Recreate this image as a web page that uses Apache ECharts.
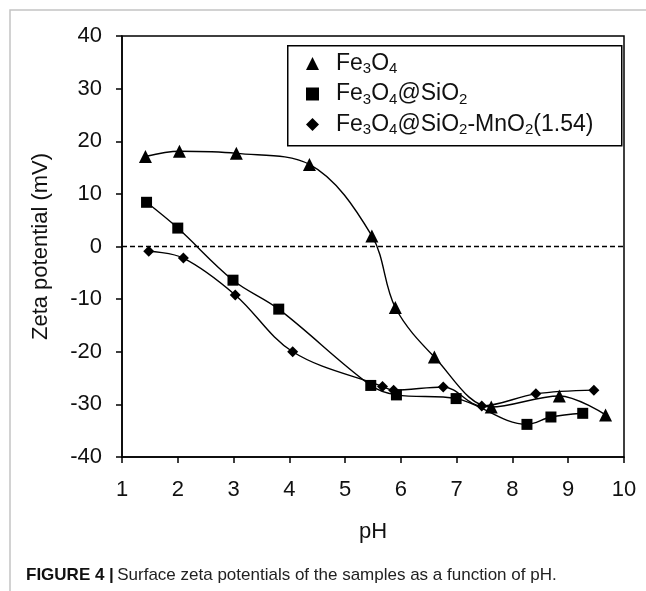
<!DOCTYPE html>
<html>

<head>
    <meta charset="utf-8">
    <title>Zeta potential vs pH (ECharts)</title>
    <script src="https://cdn.jsdelivr.net/npm/echarts@6/dist/echarts.min.js"></script>
    <style>
        html,
        body {
            margin: 0;
            padding: 0;
            height: 100%;
            overflow: hidden;
            background: #fff;
        }

        #main {
            width: 646px;
            height: 591px;
        }
    </style>
</head>

<body>
    <div id="main"></div>

    <script>
        // values: [pH, zeta potential in mV]
        const fe3o4 = [
            [1.42, 17.1], [2.03, 18.1], [3.05, 17.7], [4.36, 15.6], [5.48, 2.0],
            [5.90, -11.6], [6.60, -21.0], [7.62, -30.5], [8.84, -28.4], [9.67, -32.0]
        ];
        const fe3o4Si = [
            [1.44, 8.4], [2.00, 3.5], [2.99, -6.4], [3.81, -11.9], [5.46, -26.4],
            [5.92, -28.2], [6.99, -28.9], [8.26, -33.8], [8.69, -32.4], [9.26, -31.7]
        ];
        const fe3o4SiMn = [
            [1.48, -0.9], [2.10, -2.2], [3.03, -9.2], [4.06, -20.0], [5.67, -26.6],
            [5.87, -27.3], [6.76, -26.7], [7.45, -30.3], [8.42, -28.0], [9.46, -27.3]
        ];
        const seriesNames = ['Fe3O4', 'Fe3O4@SiO2', 'Fe3O4@SiO2-MnO2(1.54)'];
        const legendRich = {
            'Fe3O4': '{n|Fe}{s|3}{n|O}{s|4}',
            'Fe3O4@SiO2': '{n|Fe}{s|3}{n|O}{s|4}{n|@SiO}{s|2}',
            'Fe3O4@SiO2-MnO2(1.54)': '{n|Fe}{s|3}{n|O}{s|4}{n|@SiO}{s|2}{n|-MnO}{s|2}{n|(1.54)}'
        };

        const font = 'Liberation Sans, Arial, sans-serif';
        const chart = echarts.init(document.getElementById('main'));

        const lineSeries = (name, data, symbol, size) => ({
            name: name,
            type: 'line',
            data: data,
            smooth: 0.35,
            symbol: symbol,
            symbolSize: size,
            itemStyle: { color: '#000' },
            lineStyle: { color: '#000', width: 1.4 },
            z: 3
        });

        chart.setOption({
            animation: false,
            textStyle: { fontFamily: font, color: '#111' },

            grid: { left: 122, right: 22, top: 36, bottom: 134, show: true, borderColor: '#000', borderWidth: 1.5 },

            xAxis: {
                type: 'value',
                min: 1,
                max: 10,
                interval: 1,
                name: 'pH',
                nameLocation: 'middle',
                nameGap: 64,
                nameTextStyle: { fontSize: 22, color: '#111' },
                axisLine: { onZero: false, lineStyle: { color: '#000', width: 1.5 } },
                axisTick: { inside: false, length: 6, lineStyle: { color: '#000', width: 1.5 } },
                axisLabel: { fontSize: 22, color: '#111', margin: 22 },
                splitLine: { show: false }
            },

            yAxis: {
                type: 'value',
                min: -40,
                max: 40,
                interval: 10,
                name: 'Zeta potential (mV)',
                nameLocation: 'middle',
                nameGap: 70,
                nameTextStyle: { fontSize: 22, color: '#111' },
                axisLine: { onZero: false, lineStyle: { color: '#000', width: 1.5 } },
                axisTick: { inside: false, length: 6, lineStyle: { color: '#000', width: 1.5 } },
                axisLabel: { fontSize: 22, color: '#111', margin: 20 },
                splitLine: { show: false }
            },

            legend: {
                orient: 'vertical',
                left: 301,
                top: 47,
                itemWidth: 13,
                itemHeight: 13,
                itemGap: 6,
                data: [
                    { name: seriesNames[0], icon: 'triangle' },
                    { name: seriesNames[1], icon: 'rect' },
                    { name: seriesNames[2], icon: 'diamond' }
                ],
                formatter: name => legendRich[name],
                textStyle: {
                    padding: [0, 0, 0, 12],
                    rich: {
                        n: { fontSize: 23, fontFamily: font, color: '#111', lineHeight: 26, verticalAlign: 'middle' },
                        s: { fontSize: 15, fontFamily: font, color: '#111', lineHeight: 14, verticalAlign: 'bottom' }
                    }
                }
            },

            graphic: [
                // legend frame
                {
                    type: 'rect', left: 287, top: 45, z: 1,
                    shape: { width: 334, height: 100 },
                    style: { fill: '#fff', stroke: '#000', lineWidth: 1.5 }
                },
                // figure frame
                {
                    type: 'polyline', z: 0, silent: true,
                    shape: { points: [[10, 591], [10, 10], [646, 10]] },
                    style: { stroke: '#c4c4c4', lineWidth: 1.5, fill: null }
                },
                {
                    type: 'text', left: 26, top: 567,
                    style: {
                        text: '{b|FIGURE 4 |} {r|Surface zeta potentials of the samples as a function of pH.}',
                        rich: {
                            b: { fontSize: 17, fontWeight: 'bold', fontFamily: font, fill: '#111' },
                            r: { fontSize: 17, fontFamily: font, fill: '#222' }
                        }
                    }
                }
            ],

            series: [
                Object.assign(lineSeries(seriesNames[0], fe3o4, 'triangle', 13), {
                    markLine: {
                        silent: true,
                        symbol: 'none',
                        label: { show: false },
                        lineStyle: { color: '#000', type: [5, 3], width: 1.3 },
                        data: [{ yAxis: 0 }]
                    }
                }),
                lineSeries(seriesNames[1], fe3o4Si, 'rect', 11),
                lineSeries(seriesNames[2], fe3o4SiMn, 'diamond', 11)
            ]
        });
    </script>

</body>

</html>
